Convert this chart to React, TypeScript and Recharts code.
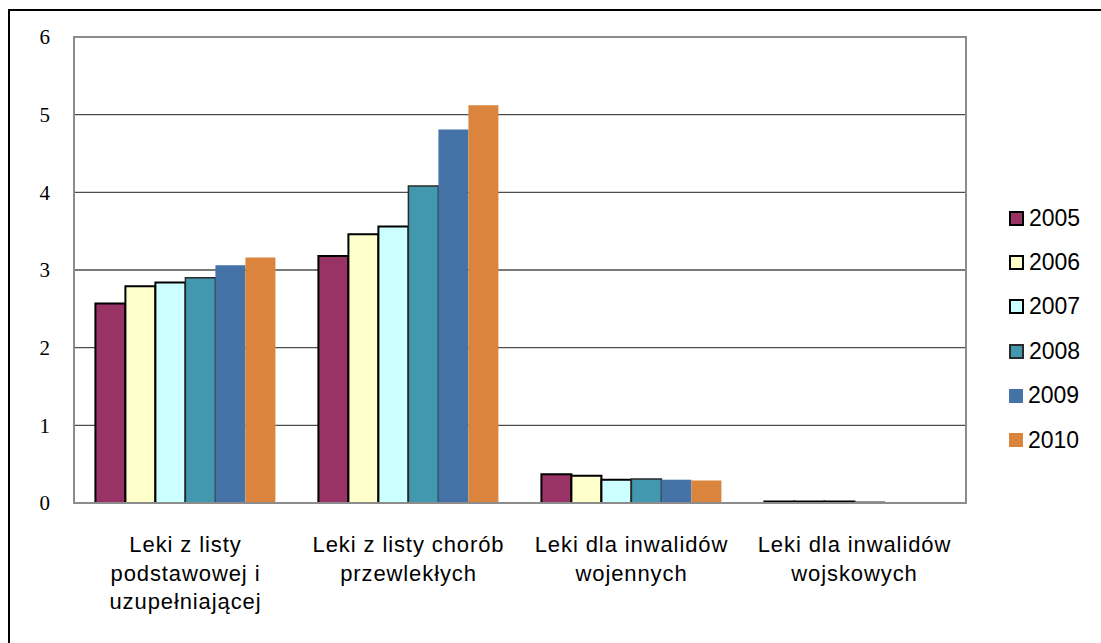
import React from "react"
import {
  BarChart,
  Bar,
  XAxis,
  YAxis,
  CartesianGrid,
  ReferenceArea,
  Legend,
} from "recharts"

const categories = [
  "Leki z listy\npodstawowej i\nuzupełniającej",
  "Leki z listy chorób\nprzewlekłych",
  "Leki dla inwalidów\nwojennych",
  "Leki dla inwalidów\nwojskowych",
]

const years = ["2005", "2006", "2007", "2008", "2009", "2010"]

const v2005 = [2.57, 3.18, 0.37, 0.02]
const v2006 = [2.79, 3.46, 0.35, 0.02]
const v2007 = [2.84, 3.56, 0.3, 0.02]
const v2008 = [2.9, 4.08, 0.31, 0.01]
const v2009 = [3.06, 4.81, 0.3, 0.01]
const v2010 = [3.16, 5.12, 0.29, 0.01]

const yTicks = [0, 1, 2, 3, 4, 5, 6]

const seriesValues = [v2005, v2006, v2007, v2008, v2009, v2010]
const colors = ["#993366", "#FFFFCC", "#CCFFFF", "#4198AF", "#4572A7", "#DB843D"]
const strokes = ["#000", "#000", "#000", "#2a2a2a", "none", "none"]
const strokeWidths = [2, 2, 2, 1.5, 0, 0]

const data = categories.map((name, i) => {
  const row: Record<string, string | number> = { name }
  years.forEach((y, k) => {
    row[y] = seriesValues[k][i]
  })
  return row
})

const sans = "'Liberation Sans', Arial, sans-serif"
const serif = "'Liberation Serif', 'Times New Roman', serif"

function CategoryTick(props: any) {
  const { x, y, payload } = props
  const lines = String(payload.value).split("\n")
  return (
    <text
      x={x}
      y={y + 49}
      textAnchor="middle"
      fontFamily={sans}
      fontSize={22}
      letterSpacing={0.9}
      fill="#000"
    >
      {lines.map((line, i) => (
        <tspan key={i} x={x} dy={i === 0 ? 0 : 28.5}>
          {line}
        </tspan>
      ))}
    </text>
  )
}

function YearLegend(props: any) {
  const items = props.payload || []
  return (
    <div>
      {items.map((item: any, i: number) => {
        const k = years.indexOf(String(item.value))
        return (
          <div
            key={i}
            style={{
              height: 44.4,
              display: "flex",
              alignItems: "center",
              fontFamily: sans,
              fontSize: 23,
              color: "#000",
            }}
          >
            <span
              style={{
                display: "inline-block",
                width: strokes[k] === "none" ? 14 : 11,
                height: strokes[k] === "none" ? 14 : 11,
                background: colors[k],
                border: strokes[k] === "none" ? "none" : `2px solid ${strokes[k]}`,
                marginRight: 5,
              }}
            />
            <span>{item.value}</span>
          </div>
        )
      })}
    </div>
  )
}

export default function App() {
  return (
    <div
      style={{
        position: "absolute",
        left: 0,
        top: 0,
        width: 1101,
        height: 643,
        overflow: "hidden",
        background: "#fff",
      }}
    >
      <div
        style={{
          position: "absolute",
          left: 8,
          top: 9,
          width: 1200,
          height: 700,
          borderLeft: "2px solid #000",
          borderTop: "2px solid #000",
        }}
      />
      <BarChart
        width={1101}
        height={643}
        data={data}
        margin={{ top: 37, right: 135, bottom: 0, left: 0 }}
        barCategoryGap="9.6%"
        barGap={0}
      >
        <CartesianGrid vertical={false} stroke="#4d4d4d" strokeWidth={1.3} />
        <ReferenceArea
          y1={0}
          y2={6}
          fill="none"
          stroke="#8c8c8c"
          strokeWidth={2}
          ifOverflow="visible"
        />
        <XAxis
          dataKey="name"
          height={140}
          interval={0}
          tickLine={false}
          tickSize={0}
          tickMargin={0}
          axisLine={{ stroke: "#8c8c8c", strokeWidth: 2 }}
          tick={<CategoryTick />}
        />
        <YAxis
          width={74}
          domain={[0, 6]}
          ticks={yTicks}
          tickLine={false}
          tickSize={0}
          tickMargin={24}
          axisLine={{ stroke: "#8c8c8c", strokeWidth: 2 }}
          tick={{ fontFamily: serif, fontSize: 21, fill: "#000" }}
        />
        <Legend
          layout="vertical"
          align="center"
          verticalAlign="middle"
          content={<YearLegend />}
          wrapperStyle={{ left: 1009, top: 196, width: 90 }}
        />
        {years.map((y, k) => (
          <Bar
            key={y}
            dataKey={y}
            fill={colors[k]}
            stroke={strokes[k]}
            strokeWidth={strokeWidths[k]}
            isAnimationActive={false}
          />
        ))}
      </BarChart>
    </div>
  )
}
